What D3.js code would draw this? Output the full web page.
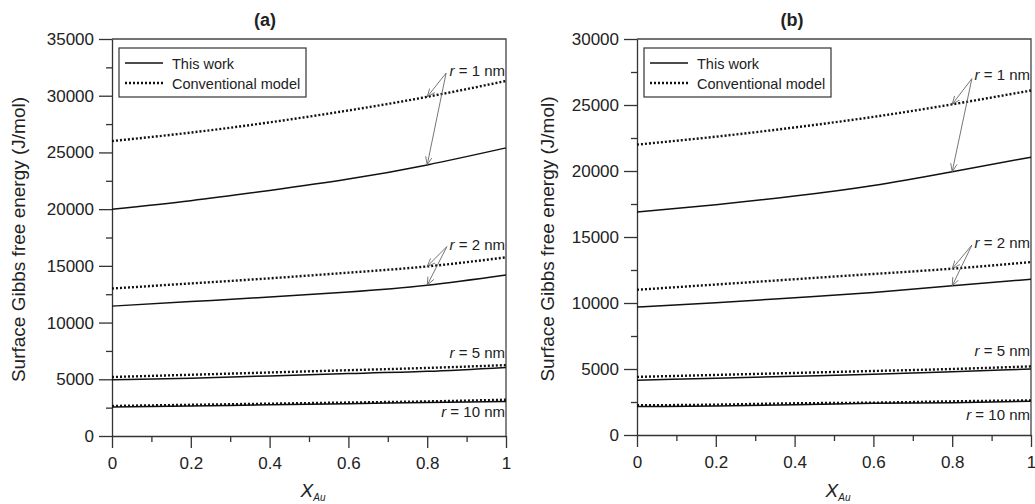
<!DOCTYPE html>
<html>
<head>
<meta charset="utf-8">
<script src="https://cdn.jsdelivr.net/npm/d3@7"></script>
<style>
  html, body { margin: 0; padding: 0; background: #fff; }
  svg { display: block; font-family: "Liberation Sans", Arial, sans-serif; }
  .axis path, .axis line { stroke: #333; }
  .axis text { fill: #222; font-size: 17px; }
</style>
</head>
<body>
<svg id="chart" width="1035" height="504"></svg>
<script>
// ─── Data ─────────────────────────────────────────────────────────────────────
const xAu = [0, 0.2, 0.4, 0.6, 0.8, 1];

// panel (a)
const aWork1  = [20000, 20750, 21650, 22650, 23900, 25400];
const aConv1  = [26000, 26750, 27650, 28700, 29900, 31300];
const aWork2  = [11450, 11850, 12250, 12700, 13300, 14200];
const aConv2  = [13000, 13450, 13900, 14400, 14950, 15750];
const aWork5  = [4950, 5100, 5300, 5500, 5700, 6050];
const aConv5  = [5200, 5400, 5600, 5800, 6000, 6250];
const aWork10 = [2550, 2650, 2750, 2850, 2950, 3050];
const aConv10 = [2650, 2750, 2850, 2950, 3050, 3200];

// panel (b)
const bWork1  = [16900, 17450, 18100, 18900, 19950, 21050];
const bConv1  = [22000, 22600, 23300, 24100, 25050, 26100];
const bWork2  = [9700, 10020, 10400, 10800, 11300, 11800];
const bConv2  = [11000, 11400, 11800, 12200, 12600, 13100];
const bWork5  = [4150, 4300, 4450, 4600, 4800, 5000];
const bConv5  = [4400, 4550, 4700, 4850, 5000, 5200];
const bWork10 = [2150, 2200, 2300, 2400, 2450, 2550];
const bConv10 = [2250, 2300, 2400, 2450, 2550, 2620];

const xTicks     = [0, 0.2, 0.4, 0.6, 0.8, 1];
const xTickLabel = ['0', '0.2', '0.4', '0.6', '0.8', '1'];
const aYTicks    = [0, 5000, 10000, 15000, 20000, 25000, 30000, 35000];
const bYTicks    = [0, 5000, 10000, 15000, 20000, 25000, 30000];
const radii      = ['1', '2', '5', '10'];

const svg = d3.select('#chart');

// ─── One panel ────────────────────────────────────────────────────────────────
function drawPanel(p) {
  const g = svg.append('g');
  const x = d3.scaleLinear().domain([0, 1]).range([p.left, p.right]);
  const y = d3.scaleLinear().domain([0, p.yMax]).range([p.bottom, p.top]);

  // frame (top + right)
  g.append('path')
    .attr('d', `M${p.left},${p.top}H${p.right}V${p.bottom}`)
    .attr('fill', 'none').attr('stroke', '#444').attr('stroke-width', 1.3);

  // y axis
  const minorY = d3.range(2500, p.yMax, 5000);
  g.append('g').attr('class', 'axis').attr('transform', `translate(${p.left},0)`)
    .call(d3.axisLeft(y).tickValues(minorY).tickSize(6).tickFormat(''))
    .call(a => a.select('.domain').remove())
    .selectAll('line').attr('stroke-width', 1.3);
  g.append('g').attr('class', 'axis').attr('transform', `translate(${p.left},0)`)
    .call(d3.axisLeft(y).tickValues(p.yTicks).tickSize(13).tickPadding(5).tickSizeOuter(0).tickFormat(d3.format('d')))
    .call(a => a.selectAll('line, path').attr('stroke-width', 1.3));

  // x axis
  const minorX = d3.range(0.1, 1, 0.2);
  g.append('g').attr('class', 'axis').attr('transform', `translate(0,${p.bottom})`)
    .call(d3.axisBottom(x).tickValues(minorX).tickSize(6).tickFormat(''))
    .call(a => a.select('.domain').remove())
    .selectAll('line').attr('stroke-width', 1.3);
  g.append('g').attr('class', 'axis').attr('transform', `translate(0,${p.bottom})`)
    .call(d3.axisBottom(x).tickValues(xTicks).tickSize(12).tickPadding(9).tickSizeOuter(0)
      .tickFormat((d, i) => xTickLabel[i]))
    .call(a => a.selectAll('line, path').attr('stroke-width', 1.3));

  // curves
  const line = d3.line().x((d, i) => x(xAu[i])).y(d => y(d)).curve(d3.curveNatural);
  p.work.forEach(s => {
    g.append('path').attr('d', line(s)).attr('fill', 'none')
      .attr('stroke', '#111').attr('stroke-width', 1.5);
  });
  p.conv.forEach(s => {
    g.append('path').attr('d', line(s)).attr('fill', 'none')
      .attr('stroke', '#111').attr('stroke-width', 2.4).attr('stroke-dasharray', '2,2');
  });

  // r labels
  radii.forEach((r, i) => {
    const t = g.append('text').attr('x', p.right - 1).attr('y', y(p.labelY[i]))
      .attr('text-anchor', 'end').attr('font-size', 15).attr('fill', '#222');
    t.append('tspan').attr('font-style', 'italic').text('r');
    t.append('tspan').text(` = ${r} nm`);
  });

  // arrows for r = 1 and r = 2, pointing at X = 0.8
  p.arrows.forEach(a => {
    const ox = x(a.fromX), oy = y(a.fromY);
    [a.conv, a.work].forEach(s => {
      g.append('line')
        .attr('x1', ox).attr('y1', oy)
        .attr('x2', x(xAu[4])).attr('y2', y(s[4]))
        .attr('stroke', '#666').attr('stroke-width', 0.9)
        .attr('marker-end', 'url(#arr)');
    });
  });

  // legend
  const lg = g.append('g').attr('transform', `translate(${p.left + 7},${p.top + 9})`);
  lg.append('rect').attr('width', 187).attr('height', 49)
    .attr('fill', '#fff').attr('stroke', '#333').attr('stroke-width', 1.2);
  [['This work', false], ['Conventional model', true]].forEach(([name, dotted], i) => {
    const ly = 15 + i * 20;
    const ln = lg.append('line').attr('x1', 6).attr('x2', 44).attr('y1', ly).attr('y2', ly)
      .attr('stroke', '#111');
    if (dotted) ln.attr('stroke-width', 2.4).attr('stroke-dasharray', '2,2');
    else ln.attr('stroke-width', 1.5);
    lg.append('text').attr('x', 53).attr('y', ly + 5.5).attr('font-size', 14.5)
      .attr('fill', '#222').text(name);
  });

  // panel title
  svg.append('text').attr('x', p.titleX).attr('y', 26).attr('text-anchor', 'middle')
    .attr('font-size', 18).attr('font-weight', 'bold').attr('fill', '#222').text(p.title);

  // y title
  svg.append('text').attr('transform', `translate(${p.yLabelX},${(p.top + p.bottom) / 2 + 2}) rotate(-90)`)
    .attr('text-anchor', 'middle').attr('dy', '0.35em').attr('font-size', 19).attr('fill', '#222')
    .text('Surface Gibbs free energy (J/mol)');

  // x title
  const xt = svg.append('text').attr('x', (p.left + p.right) / 2 + 4).attr('y', 497)
    .attr('text-anchor', 'middle').attr('font-size', 19).attr('fill', '#222').attr('font-style', 'italic');
  xt.append('tspan').text('X');
  xt.append('tspan').attr('font-size', 10).attr('dy', 4).text('Au');
}

// arrow marker
svg.append('defs').append('marker')
  .attr('id', 'arr').attr('viewBox', '0 -5 10 10').attr('refX', 9).attr('refY', 0)
  .attr('markerUnits', 'userSpaceOnUse').attr('markerWidth', 9).attr('markerHeight', 9)
  .attr('orient', 'auto')
  .append('path').attr('d', 'M0,-3.6L9,0L0,3.6').attr('fill', 'none')
  .attr('stroke', '#666').attr('stroke-width', 0.9);

drawPanel({
  left: 112, right: 506, top: 39, bottom: 436, yMax: 35000, yTicks: aYTicks,
  work: [aWork1, aWork2, aWork5, aWork10],
  conv: [aConv1, aConv2, aConv5, aConv10],
  labelY: [31700, 16430, 6890, 1680],
  arrows: [
    { fromX: 0.848, fromY: 32000, conv: aConv1, work: aWork1 },
    { fromX: 0.85,  fromY: 16700, conv: aConv2, work: aWork2 }
  ],
  title: '(a)', titleX: 265, yLabelX: 18
});

drawPanel({
  left: 637, right: 1031, top: 39, bottom: 435, yMax: 30000, yTicks: bYTicks,
  work: [bWork1, bWork2, bWork5, bWork10],
  conv: [bConv1, bConv2, bConv5, bConv10],
  labelY: [26900, 14170, 5980, 1140],
  arrows: [
    { fromX: 0.85, fromY: 27000, conv: bConv1, work: bWork1 },
    { fromX: 0.85, fromY: 14390, conv: bConv2, work: bWork2 }
  ],
  title: '(b)', titleX: 792, yLabelX: 547
});
</script>
</body>
</html>
